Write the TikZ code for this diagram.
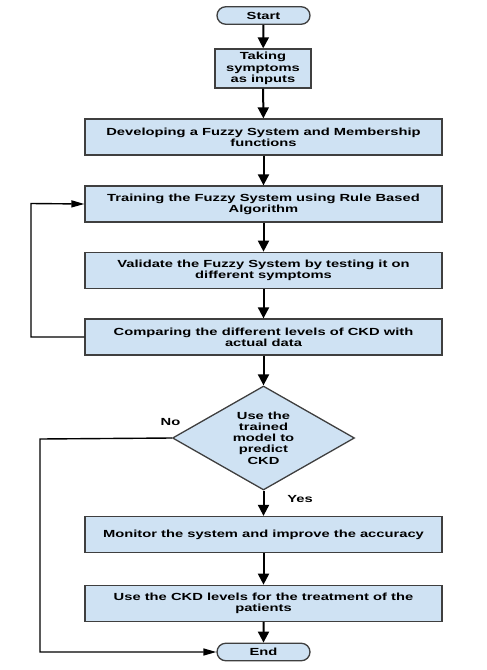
\documentclass[tikz,border=0pt]{standalone}
\usepackage{fontspec}
\setmainfont{Liberation Sans}[FakeStretch=1.43]
\usetikzlibrary{shapes.geometric,shapes.misc,arrows.meta}
\definecolor{boxfill}{HTML}{CFE2F3}
\definecolor{boxline}{HTML}{3F3F3F}
\begin{document}
\begin{tikzpicture}[x=1pt,y=-1pt,
  base/.style={draw=boxline,fill=boxfill,line width=1.3pt,align=center,inner sep=0pt,
    font=\fontsize{10.3}{11.2}\selectfont\bfseries},
  wide/.style={base,rectangle,minimum width=357pt,minimum height=36pt},
  term/.style={base,rounded rectangle,minimum width=93pt,minimum height=17.5pt},
  dec/.style={base,diamond,aspect=1.75,minimum width=182pt,minimum height=104pt},
  main/.style={line width=2pt,-{Triangle[length=11pt,width=11pt]}},
  loop/.style={line width=1.4pt,-{Triangle[length=13pt,width=7pt]}},
  lbl/.style={font=\fontsize{10.3}{11.2}\selectfont\bfseries,inner sep=0pt}]
\useasboundingbox (0,0) rectangle (487,670);
\node[term] (start) at (263.5,15.5) {Start};
\node[base,rectangle,minimum width=96pt,minimum height=39pt] (take) at (263,68.5) {Taking\\symptoms\\as inputs};
\node[wide] (dev) at (263.5,137) {Developing a Fuzzy System and Membership\\functions};
\node[wide] (train) at (263.5,204) {Training the Fuzzy System using Rule Based\\Algorithm};
\node[wide] (valid) at (263.5,270.3) {Validate the Fuzzy System by testing it on\\different symptoms};
\node[wide] (comp) at (263.5,337) {Comparing the different levels of CKD with\\actual data};
\node[dec] (dia) at (263.5,438) {Use the\\trained\\model to\\predict\\CKD};
\node[wide] (mon) at (263.5,534.5) {Monitor the system and improve the accuracy};
\node[wide] (use) at (263.5,603.3) {Use the CKD levels for the treatment of the\\patients};
\node[term] (end) at (263.5,652) {End};
\node[lbl] (no) at (170.5,422.5) {No};
\node[lbl] (yes) at (300,498.5) {Yes};
\coordinate (loopA) at (31,337);
\coordinate (loopB) at (31,203.5);
\coordinate (noA) at (40,439);
\coordinate (noB) at (40,652);
\draw[main] (start) -- (take);
\draw[main] (take) -- (dev);
\draw[main] (dev) -- (train);
\draw[main] (train) -- (valid);
\draw[main] (valid) -- (comp);
\draw[main] (comp) -- (dia);
\draw[main] (dia) -- (mon);
\draw[main] (mon) -- (use);
\draw[main] (use) -- (end);
\draw[loop] (comp.west) -- (loopA) -- (loopB) -- (train.west);
\draw[loop] (dia.west) -- (noA) -- (noB) -- (end.west);
\end{tikzpicture}
\end{document}
